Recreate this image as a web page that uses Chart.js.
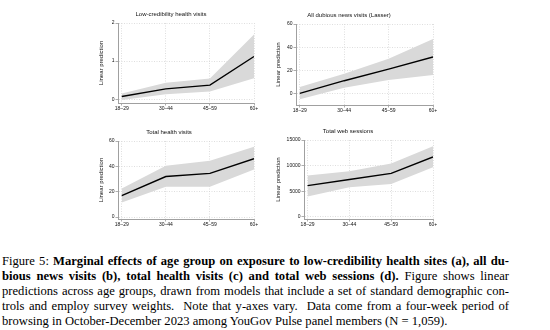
<!DOCTYPE html>
<html>
<head>
<meta charset="utf-8">
<script src="https://cdn.jsdelivr.net/npm/chart.js@4"></script>
<style>
    body { margin: 0; background: #fff; width: 550px; height: 330px; position: relative; overflow: hidden; }
    canvas { position: absolute; }
    #caption { position: absolute; left: 2px; top: 254px; width: 507px; font-family: "Liberation Serif", "Times New Roman", serif; font-size: 12.6px; line-height: 15px; color: #000; }
    #caption div { text-align: justify; text-align-last: justify; }
    #caption div.last { text-align-last: left; }
</style>
</head>
<body>
<canvas id="panelA"></canvas>
<canvas id="panelB"></canvas>
<canvas id="panelC"></canvas>
<canvas id="panelD"></canvas>
<div id="caption">
    <div>Figure 5: <b>Marginal effects of age group on exposure to low-credibility health sites (a), all du-</b></div>
    <div><b>bious news visits (b), total health visits (c) and total web sessions (d).</b> Figure shows linear</div>
    <div>predictions across age groups, drawn from models that include a set of standard demographic con-</div>
    <div>trols and employ survey weights.&nbsp; Note that y-axes vary.&nbsp; Data come from a four-week period of</div>
    <div class="last">browsing in October-December 2023 among YouGov Pulse panel members (N = 1,059).</div>
</div>
<script>
// age groups (x axis)
const ages = ['18–29', '30–44', '45–59', '60+'];

// (a) low-credibility health visits
const lowCredFit = [0.07, 0.27, 0.37, 1.12];
const lowCredLo = [-0.02, 0.13, 0.20, 0.55];
const lowCredHi = [0.15, 0.43, 0.54, 1.70];
const lowCredTicks = [0, 1, 2];

// (b) all dubious news visits (Lasser)
const dubiousFit = [0, 11, 21, 31.5];
const dubiousLo = [-5, 5, 11.5, 16];
const dubiousHi = [5.5, 17, 30, 47];
const dubiousTicks = [0, 20, 40, 60];

// (c) total health visits
const healthFit = [17, 32, 34.5, 46];
const healthLo = [11.5, 24, 24, 37.5];
const healthHi = [22.5, 40.5, 44.5, 55.5];
const healthTicks = [0, 20, 40, 60];

// (d) total web sessions
const webFit = [6100, 7300, 8500, 11700];
const webLo = [4000, 5800, 6400, 9700];
const webHi = [8100, 8900, 10400, 13800];
const webTicks = [0, 5000, 10000, 15000];

const FONT = '"Liberation Sans", Arial, sans-serif';

function pts(arr) {
    return arr.map((v, i) => ({ x: i, y: v }));
}

// box = plot area on the page, padL = room left of the y axis
function panel(id, title, fit, lo, hi, yTicks, yMin, box) {
    var cv = document.getElementById(id);
    var padL = box.padL, padT = 22, padB = 14, padR = 12;
    cv.width = box.right - box.left + padL + padR;
    cv.height = box.bottom - box.top + padT + padB;
    cv.style.left = (box.left - padL) + 'px';
    cv.style.top = (box.top - padT) + 'px';

    var ctx = cv.getContext('2d');
    return new Chart(ctx, {
        type: 'line',
        data: {
            datasets: [
                { data: pts(fit), borderColor: '#000', borderWidth: 1.4, pointRadius: 0, fill: false },
                { data: pts(lo), borderColor: 'rgba(0,0,0,0)', borderWidth: 0, pointRadius: 0, fill: false },
                { data: pts(hi), borderColor: 'rgba(0,0,0,0)', borderWidth: 0, pointRadius: 0, backgroundColor: '#d9d9d9', fill: '-1' }
            ]
        },
        options: {
            responsive: false,
            animation: false,
            layout: { padding: { left: 0, right: padR, top: 0, bottom: 0 } },
            plugins: {
                legend: { display: false },
                tooltip: { enabled: false },
                title: {
                    display: true,
                    text: title,
                    color: '#111',
                    font: { size: 6, family: FONT, weight: 'normal' },
                    padding: { top: 9.4, bottom: 5.4 }
                }
            },
            scales: {
                x: {
                    type: 'linear',
                    min: -0.085,
                    max: ages.length - 1,
                    grid: { color: '#d6d6d6', lineWidth: 0.8, tickColor: '#999', tickLength: 2.5, tickBorderDash: [] },
                    border: { color: '#a0a0a0', width: 1, dash: [1, 1.5] },
                    ticks: {
                        autoSkip: false,
                        maxRotation: 0,
                        padding: 0,
                        color: '#111',
                        font: { size: 5, family: FONT },
                        callback: v => ages[v]
                    },
                    afterBuildTicks: s => { s.ticks = ages.map((a, i) => ({ value: i })); },
                    afterFit: s => { s.height = padB; }
                },
                y: {
                    min: yMin,
                    max: yTicks[yTicks.length - 1],
                    grid: { color: '#d6d6d6', lineWidth: 0.8, tickColor: '#999', tickLength: 2.5, tickBorderDash: [] },
                    border: { color: '#a0a0a0', width: 1, dash: [1, 1.5] },
                    ticks: {
                        padding: 1,
                        color: '#111',
                        font: { size: 5, family: FONT },
                        callback: v => String(v)
                    },
                    afterBuildTicks: s => { s.ticks = yTicks.map(v => ({ value: v })); },
                    title: {
                        display: true,
                        text: 'Linear prediction',
                        color: '#111',
                        font: { size: 6, family: FONT },
                        padding: { top: box.yTitle - box.left + padL - 3.6, bottom: 0 }
                    },
                    afterFit: s => { s.width = padL; }
                }
            }
        }
    });
}

panel('panelA', 'Low-credibility health visits', lowCredFit, lowCredLo, lowCredHi, lowCredTicks, -0.1,
    { left: 118, right: 254, top: 23, bottom: 103, padL: 30, yTitle: 101 });
panel('panelB', 'All dubious news visits (Lasser)', dubiousFit, dubiousLo, dubiousHi, dubiousTicks, -10,
    { left: 296, right: 433, top: 24, bottom: 105, padL: 31, yTitle: 278 });
panel('panelC', 'Total health visits', healthFit, healthLo, healthHi, healthTicks, -1.5,
    { left: 118, right: 254, top: 141, bottom: 219, padL: 34, yTitle: 101 });
panel('panelD', 'Total web sessions', webFit, webLo, webHi, webTicks, -400,
    { left: 304, right: 433, top: 140, bottom: 219, padL: 41, yTitle: 278 });
</script>
</body>
</html>
